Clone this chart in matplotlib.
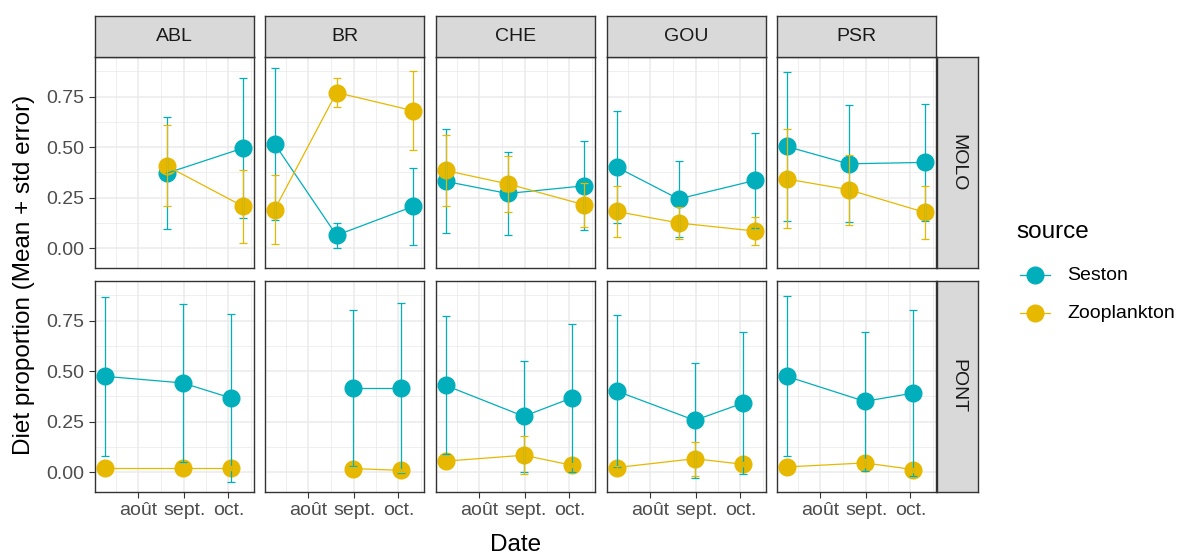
import numpy as np
import pandas as pd
import matplotlib
matplotlib.use("Agg")
import matplotlib.pyplot as plt
from matplotlib.lines import Line2D

plt.rcParams['font.family'] = ['Liberation Sans', 'DejaVu Sans']

# Données (moyenne + erreur standard)
sites = ["ABL", "BR", "CHE", "GOU", "PSR"]
stations = ["MOLO", "PONT"]
dates_molo = pd.to_datetime(["2019-07-09", "2019-08-20", "2019-10-11"])
dates_pont = pd.to_datetime(["2019-07-09", "2019-08-31", "2019-10-03"])
nan = np.nan

seston_molo = [[nan, 0.370, 0.495], [0.516, 0.063, 0.206], [0.330, 0.270, 0.308],
               [0.401, 0.243, 0.335], [0.503, 0.417, 0.424]]
seston_molo_se = [[nan, 0.278, 0.345], [0.375, 0.063, 0.190], [0.257, 0.205, 0.220],
                  [0.278, 0.186, 0.237], [0.368, 0.290, 0.290]]
zoo_molo = [[nan, 0.407, 0.206], [0.190, 0.770, 0.680], [0.384, 0.318, 0.214],
            [0.181, 0.124, 0.084], [0.342, 0.289, 0.176]]
zoo_molo_se = [[nan, 0.200, 0.180], [0.170, 0.070, 0.195], [0.178, 0.140, 0.110],
               [0.127, 0.080, 0.068], [0.245, 0.173, 0.130]]

seston_pont = [[0.474, 0.441, 0.366], [nan, 0.416, 0.416], [0.429, 0.276, 0.368],
               [0.401, 0.256, 0.342], [0.474, 0.350, 0.391]]
seston_pont_se = [[0.395, 0.390, 0.417], [nan, 0.385, 0.420], [0.342, 0.274, 0.367],
                  [0.378, 0.284, 0.350], [0.396, 0.343, 0.410]]
zoo_pont = [[0.020, 0.020, 0.020], [nan, 0.017, 0.008], [0.054, 0.083, 0.033],
            [0.022, 0.066, 0.038], [0.025, 0.045, 0.012]]
zoo_pont_se = [[0.010, 0.010, 0.010], [nan, 0.010, 0.008], [0.010, 0.095, 0.010],
               [0.010, 0.085, 0.010], [0.010, 0.020, 0.010]]

sources = ["Seston", "Zooplankton"]
colors = {"Seston": "#00AFBB", "Zooplankton": "#E7B800"}

data = {
    "MOLO": (dates_molo, {"Seston": (seston_molo, seston_molo_se),
                          "Zooplankton": (zoo_molo, zoo_molo_se)}),
    "PONT": (dates_pont, {"Seston": (seston_pont, seston_pont_se),
                          "Zooplankton": (zoo_pont, zoo_pont_se)}),
}

major_x = pd.to_datetime(["2019-08-01", "2019-09-01", "2019-10-01"])
minor_x = pd.to_datetime(["2019-07-16 12:00", "2019-08-16 12:00", "2019-09-16 00:00", "2019-10-16 12:00"])
x_labels = ["août", "sept.", "oct."]
xlim = (pd.Timestamp("2019-07-02 12:00"), pd.Timestamp("2019-10-18 08:00"))

W, H = 1186, 554
fig = plt.figure(figsize=(W / 100, H / 100), dpi=100)


def px_axes(x0, y0, x1, y1):
    return fig.add_axes([x0 / W, 1 - y1 / H, (x1 - x0) / W, (y1 - y0) / H])


col_left = [95, 265, 436, 607, 777]
pw, ph = 159, 211
row_top = [57, 281]
border = "#333333"

for r, st in enumerate(stations):
    dates, series = data[st]
    for c, site in enumerate(sites):
        x0, y0 = col_left[c], row_top[r]
        ax = px_axes(x0, y0, x0 + pw, y0 + ph)
        ax.set_facecolor("white")
        ax.set_axisbelow(True)

        for src in sources:
            m = np.array(series[src][0][c], dtype=float)
            ok = ~np.isnan(m)
            ax.plot(dates[ok], m[ok], "o", ms=12, color=colors[src], zorder=2)
        for src in sources:
            m = np.array(series[src][0][c], dtype=float)
            ok = ~np.isnan(m)
            ax.plot(dates[ok], m[ok], "-", lw=0.9, color=colors[src], zorder=3)
        for src in sources:
            m = np.array(series[src][0][c], dtype=float)
            s = np.array(series[src][1][c], dtype=float)
            ok = ~np.isnan(m)
            ax.errorbar(dates[ok], m[ok], yerr=s[ok], fmt="none", ecolor=colors[src],
                        elinewidth=0.9, capsize=3, capthick=0.9, zorder=4)

        ax.set_xlim(*xlim)
        ax.set_ylim(-0.099, 0.946)
        ax.set_xticks(major_x)
        ax.set_xticks(minor_x, minor=True)
        ax.set_yticks([0, 0.25, 0.5, 0.75])
        ax.set_yticks([0.125, 0.375, 0.625, 0.875], minor=True)
        ax.grid(which="major", color="#EBEBEB", lw=1.1)
        ax.grid(which="minor", color="#EBEBEB", lw=0.55)
        ax.tick_params(which="minor", length=0)
        ax.tick_params(which="major", length=4.4, width=0.8, color=border,
                       labelsize=14, labelcolor="#4D4D4D", pad=3)
        for sp in ax.spines.values():
            sp.set_color(border)
            sp.set_linewidth(1.0)

        if c == 0:
            ax.set_yticklabels(["0.00", "0.25", "0.50", "0.75"])
        else:
            ax.tick_params(axis="y", left=False, labelleft=False)
        if r == 1:
            ax.set_xticklabels(x_labels)
        else:
            ax.tick_params(axis="x", bottom=False, labelbottom=False)

        # bandeau du haut
        if r == 0:
            sa = px_axes(x0, 16, x0 + pw, 57)
            sa.set_facecolor("#D9D9D9")
            sa.set_xticks([])
            sa.set_yticks([])
            for sp in sa.spines.values():
                sp.set_color(border)
                sp.set_linewidth(1.0)
            sa.text(0.5, 0.5, site, ha="center", va="center", fontsize=14,
                    color="#1A1A1A", transform=sa.transAxes)

    # bandeau de droite
    y0 = row_top[r]
    sa = px_axes(937, y0, 978, y0 + ph)
    sa.set_facecolor("#D9D9D9")
    sa.set_xticks([])
    sa.set_yticks([])
    for sp in sa.spines.values():
        sp.set_color(border)
        sp.set_linewidth(1.0)
    sa.text(0.5, 0.5, st, ha="center", va="center", rotation=-90, fontsize=14,
            color="#1A1A1A", transform=sa.transAxes)

fig.text(24 / W, 1 - 274.5 / H, "Diet proportion (Mean + std error)", rotation=90,
         ha="center", va="center", fontsize=17.5, color="black")
fig.text(516 / W, 1 - 545 / H, "Date", ha="center", va="center", fontsize=17.5,
         color="black")

# légende
fig.text(1016 / W, 1 - 232 / H, "source", ha="left", va="center", fontsize=17.5)
for i, src in enumerate(sources):
    yk = 1 - (275 + 38 * i) / H
    fig.add_artist(Line2D([1020 / W, 1050 / W], [yk, yk], color=colors[src], lw=0.9))
    fig.add_artist(Line2D([1035 / W], [yk], color=colors[src], marker="o", ms=12, lw=0))
    fig.text(1067 / W, yk, src, ha="left", va="center", fontsize=14)

fig.savefig("out.png", dpi=100, facecolor="white")
